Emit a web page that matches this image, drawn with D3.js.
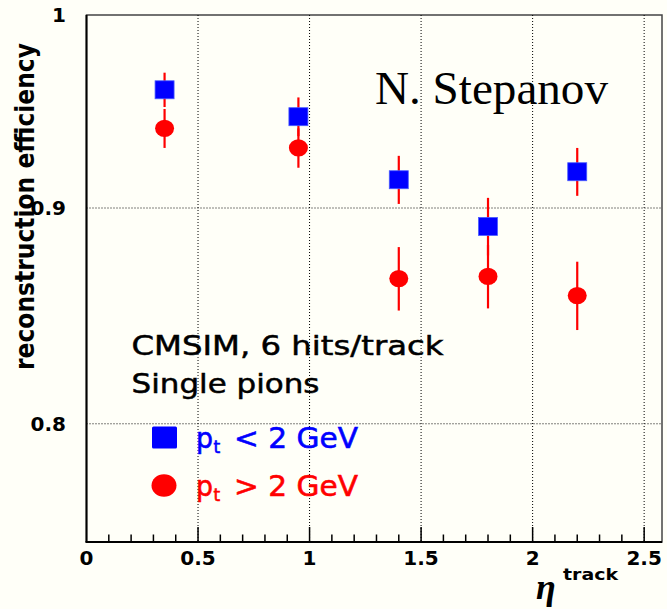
<!DOCTYPE html>
<html>
<head>
<meta charset="utf-8">
<script src="https://cdn.jsdelivr.net/npm/d3@7"></script>
<style>
  html, body { margin: 0; padding: 0; background: #fffff8; }
  svg { display: block; }
</style>
</head>
<body>
<svg id="chart" width="667" height="609"></svg>
<script>
// Track reconstruction efficiency vs. pseudorapidity, two pt ranges
const etaBins   = [0.35, 0.95, 1.4, 1.8, 2.2];
const effLowPt  = [0.960, 0.946, 0.914, 0.891, 0.918];
const errLowPt  = [0.009, 0.010, 0.012, 0.014, 0.012];
const effHighPt = [0.940, 0.930, 0.866, 0.867, 0.858];
const errHighPt = [0.010, 0.010, 0.015, 0.015, 0.016];

const xMajorTicks = [0, 0.5, 1, 1.5, 2, 2.5];
const xTickLabels = ["0", "0.5", "1", "1.5", "2", "2.5"];
const xMinorTicks = d3.range(1, 26).map(i => i / 10).filter(v => Math.abs(v * 2 - Math.round(v * 2)) > 1e-9);
const yTicks      = [0.8, 0.9, 1];
const yTickLabels = ["0.8", "0.9", "1"];

const svg = d3.select("#chart");
const plotL = 86.5, plotR = 662, plotT = 15, plotB = 542;

const x = d3.scaleLinear().domain([0, 2.58]).range([plotL, plotR]);
const y = d3.scaleLog().domain([0.75, 1]).range([plotB, plotT]);

const BLUE = "#0000ff", RED = "#ff0000";

// frame
svg.append("rect")
  .attr("x", plotL).attr("y", plotT)
  .attr("width", plotR - plotL).attr("height", plotB - plotT)
  .attr("fill", "none").attr("stroke", "#444").attr("stroke-width", 1.5);

// dotted grid
const grid = svg.append("g").attr("stroke", "#000").attr("stroke-width", 1)
  .attr("stroke-dasharray", "1,2");
grid.selectAll("line.v").data(xMajorTicks.filter(d => d > 0)).join("line")
  .attr("x1", d => x(d)).attr("x2", d => x(d))
  .attr("y1", plotT).attr("y2", plotB);
grid.selectAll("line.h").data(yTicks.filter(d => d < 1)).join("line")
  .attr("x1", plotL).attr("x2", plotR)
  .attr("y1", d => y(d)).attr("y2", d => y(d));

// axes lines
svg.append("line").attr("x1", plotL).attr("x2", plotL).attr("y1", plotT).attr("y2", plotB)
  .attr("stroke", "#000").attr("stroke-width", 2);
svg.append("line").attr("x1", plotL - 1).attr("x2", plotR).attr("y1", plotB).attr("y2", plotB)
  .attr("stroke", "#000").attr("stroke-width", 2);

// x ticks (pointing inward)
svg.append("g").selectAll("line").data(xMajorTicks.filter(d => d > 0)).join("line")
  .attr("x1", d => x(d)).attr("x2", d => x(d))
  .attr("y1", plotB).attr("y2", plotB - 15)
  .attr("stroke", "#000").attr("stroke-width", 1.5);
svg.append("g").selectAll("line").data(xMinorTicks).join("line")
  .attr("x1", d => x(d)).attr("x2", d => x(d))
  .attr("y1", plotB).attr("y2", plotB - 7.5)
  .attr("stroke", "#000").attr("stroke-width", 1.5);

// tick labels
svg.append("g").selectAll("text").data(xMajorTicks).join("text")
  .attr("x", d => x(d)).attr("y", 565)
  .attr("text-anchor", "middle")
  .attr("font-family", "DejaVu Sans").attr("font-weight", "bold").attr("font-size", 20)
  .text((d, i) => xTickLabels[i]);
svg.append("g").selectAll("text").data(yTicks).join("text")
  .attr("x", 66).attr("y", d => y(d)).attr("dy", "0.36em")
  .attr("text-anchor", "end")
  .attr("font-family", "DejaVu Sans").attr("font-weight", "bold").attr("font-size", 20)
  .text((d, i) => yTickLabels[i]);

// axis titles
svg.append("text")
  .attr("transform", "translate(34,206.5) rotate(-90)")
  .attr("text-anchor", "middle")
  .attr("font-family", "DejaVu Sans").attr("font-weight", "bold").attr("font-size", 26)
  .attr("textLength", 327).attr("lengthAdjust", "spacingAndGlyphs")
  .text("reconstruction efficiency");
svg.append("text")
  .attr("x", 536).attr("y", 599)
  .attr("font-family", "Liberation Serif").attr("font-style", "italic").attr("font-weight", "bold")
  .attr("font-size", 36)
  .text("η");
svg.append("text")
  .attr("x", 563).attr("y", 580)
  .attr("font-family", "DejaVu Sans").attr("font-weight", "bold").attr("font-size", 16)
  .attr("textLength", 55).attr("lengthAdjust", "spacingAndGlyphs")
  .text("track");

// error bars
const lowPts  = etaBins.map((e, i) => ({ eta: e, v: effLowPt[i],  err: errLowPt[i] }));
const highPts = etaBins.map((e, i) => ({ eta: e, v: effHighPt[i], err: errHighPt[i] }));

const bars = svg.append("g").attr("stroke", RED).attr("stroke-width", 2.2);
bars.selectAll("line.lo").data(lowPts).join("line")
  .attr("x1", d => x(d.eta)).attr("x2", d => x(d.eta))
  .attr("y1", d => y(d.v + d.err)).attr("y2", d => y(d.v - d.err));
bars.selectAll("line.hi").data(highPts).join("line")
  .attr("x1", d => x(d.eta)).attr("x2", d => x(d.eta))
  .attr("y1", d => y(d.v + d.err)).attr("y2", d => y(d.v - d.err));

// markers
svg.append("g").selectAll("rect").data(lowPts).join("rect")
  .attr("x", d => x(d.eta) - 9.5).attr("y", d => y(d.v) - 9)
  .attr("width", 19).attr("height", 18)
  .attr("fill", BLUE).attr("stroke", "#4a5cff").attr("stroke-width", 0.8);
svg.append("g").selectAll("ellipse").data(highPts).join("ellipse")
  .attr("cx", d => x(d.eta)).attr("cy", d => y(d.v))
  .attr("rx", 9.5).attr("ry", 8.6)
  .attr("fill", RED);

// annotations
svg.append("text")
  .attr("x", 375).attr("y", 104)
  .attr("font-family", "Liberation Serif").attr("font-size", 47)
  .attr("textLength", 233).attr("lengthAdjust", "spacingAndGlyphs")
  .text("N. Stepanov");

const note = svg.append("g").attr("font-family", "DejaVu Sans").attr("font-size", 27)
  .attr("stroke", "#000").attr("stroke-width", 0.5);
note.append("text").attr("x", 131.5).attr("y", 355)
  .attr("textLength", 312).attr("lengthAdjust", "spacingAndGlyphs")
  .text("CMSIM, 6 hits/track");
note.append("text").attr("x", 131.5).attr("y", 393)
  .attr("textLength", 188).attr("lengthAdjust", "spacingAndGlyphs")
  .text("Single pions");

// legend
const legend = [
  { label: "< 2 GeV", color: BLUE, shape: "square", cy: 437.5 },
  { label: "> 2 GeV", color: RED,  shape: "circle", cy: 485.5 }
];
const lg = svg.append("g");
legend.forEach(l => {
  if (l.shape === "square") {
    lg.append("rect").attr("x", 152).attr("y", l.cy - 11).attr("width", 25).attr("height", 22)
      .attr("rx", 1.5).attr("fill", l.color);
  } else {
    lg.append("ellipse").attr("cx", 164).attr("cy", l.cy).attr("rx", 12.5).attr("ry", 11.3)
      .attr("fill", l.color);
  }
  const base = l.cy + 10.5;
  const t = lg.append("g").attr("font-family", "DejaVu Sans").attr("fill", l.color)
    .attr("stroke", l.color).attr("stroke-width", 0.6);
  t.append("text").attr("x", 196).attr("y", base).attr("font-size", 29)
    .attr("textLength", 17).attr("lengthAdjust", "spacingAndGlyphs")
    .text("p");
  t.append("text").attr("x", 213.5).attr("y", base + 5).attr("font-size", 17)
    .text("t");
  t.append("text").attr("x", 234).attr("y", base).attr("font-size", 29)
    .attr("textLength", 124).attr("lengthAdjust", "spacingAndGlyphs")
    .text(l.label);
});
</script>
</body>
</html>
